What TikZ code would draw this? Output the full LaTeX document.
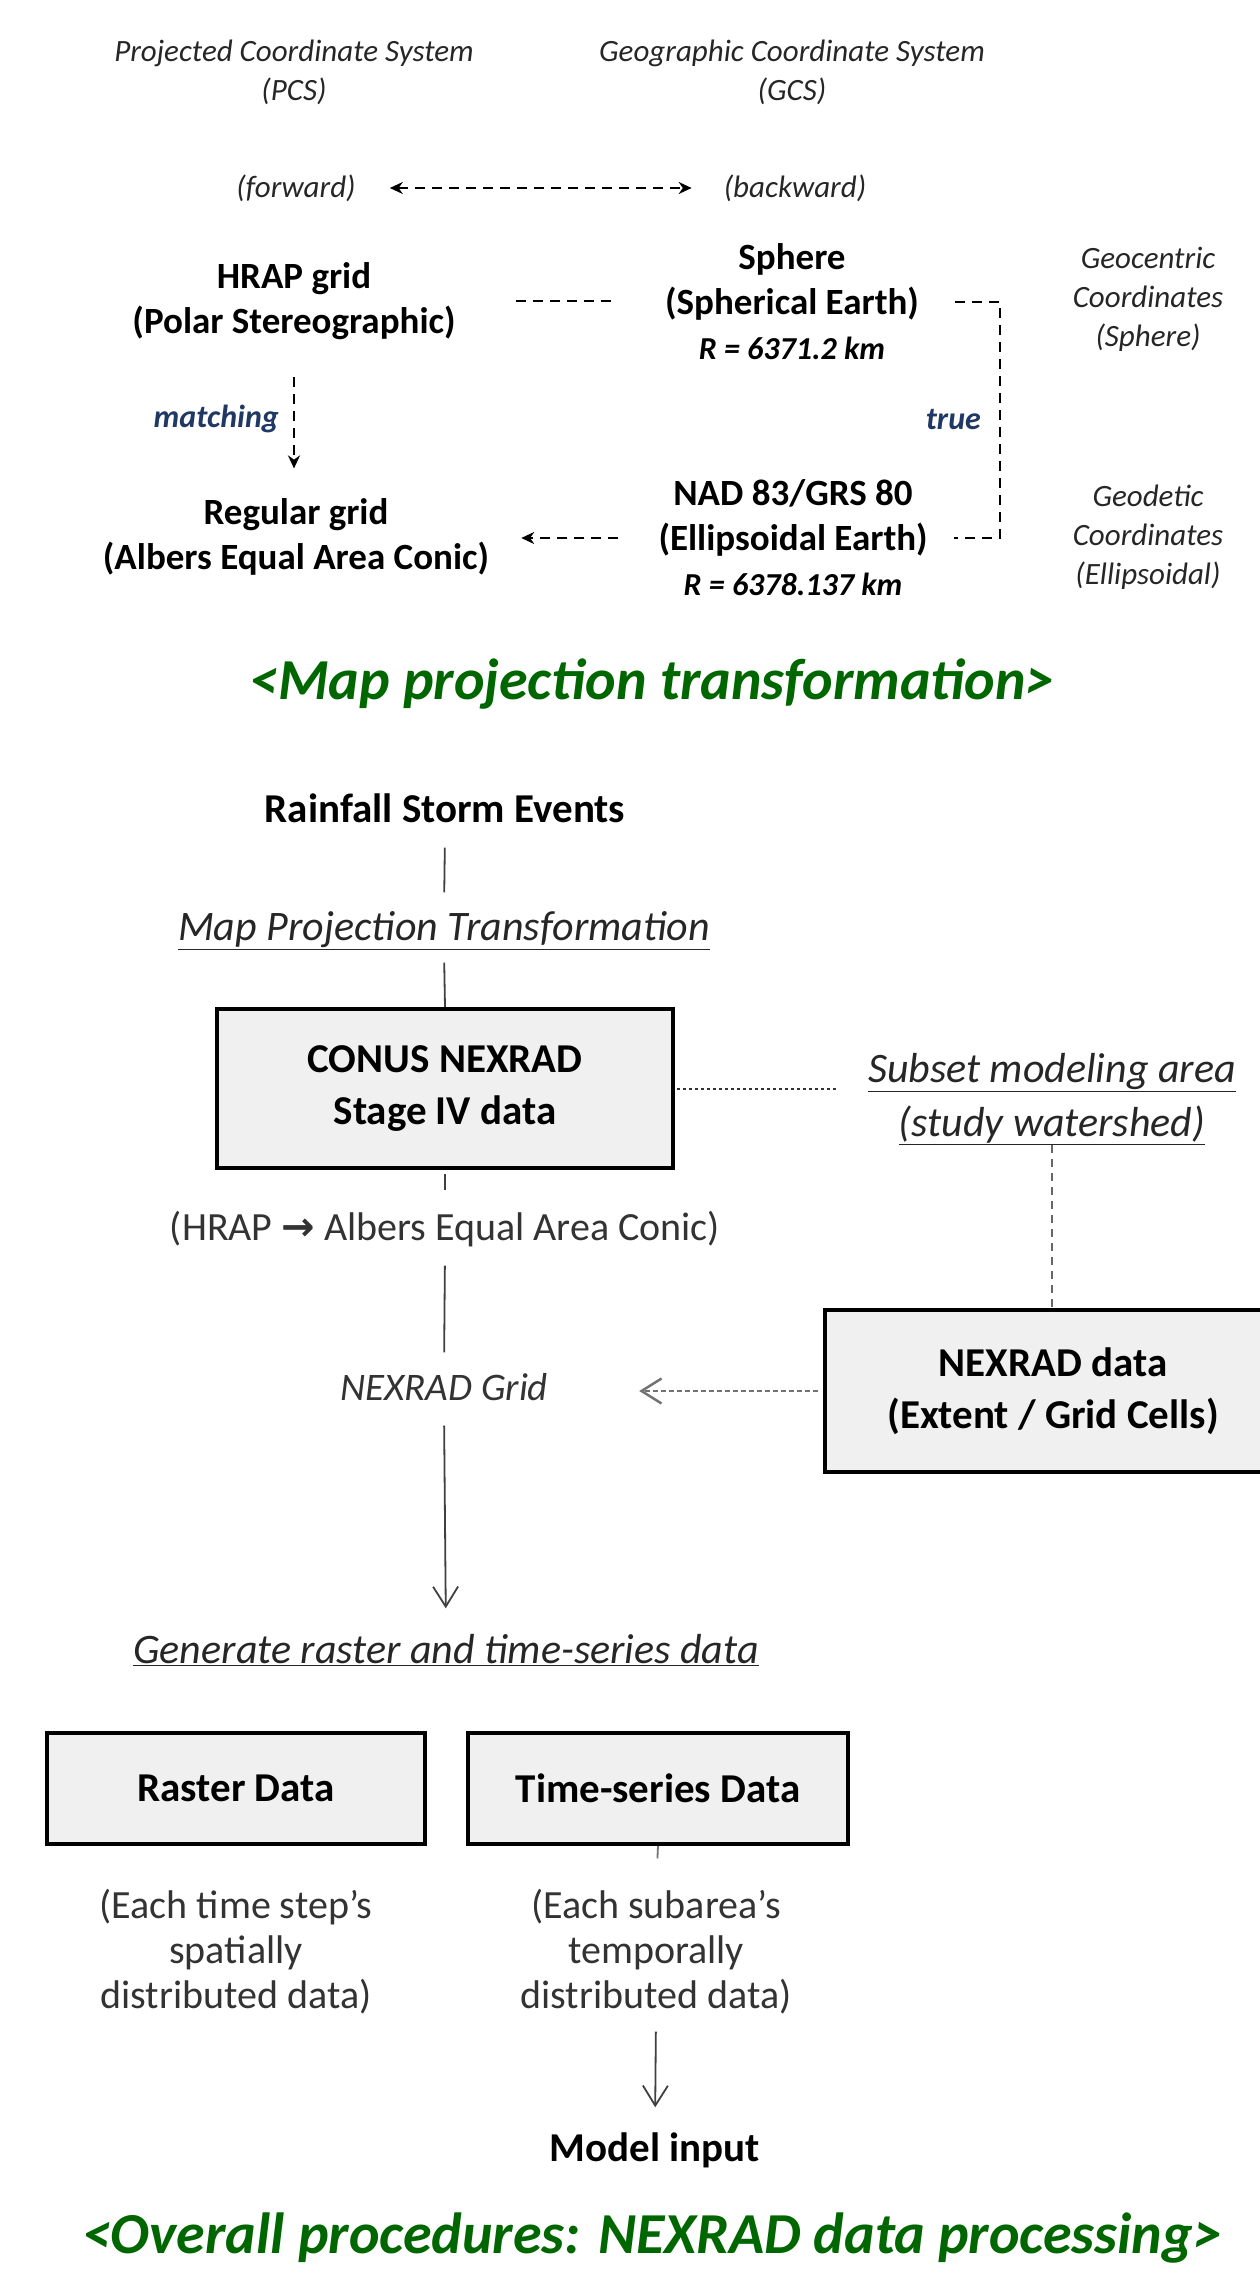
\documentclass[tikz,border=0pt]{standalone}
\usepackage{fontspec}
\setmainfont{Carlito}
\newfontfamily\symfont{DejaVu Sans}
\usetikzlibrary{arrows.meta}
\usepackage{color}
\definecolor{titlegreen}{RGB}{0,102,0}
\definecolor{labelblue}{RGB}{31,56,100}
\definecolor{boxfill}{RGB}{240,240,240}
\newcommand{\fsz}[2]{\fontsize{#1}{#2}\selectfont}

\begin{document}
\begin{tikzpicture}
  [x=1pt,y=-1pt,auto=left]
      \tikzstyle{sys_text} = [inner sep=0, align=center, text=black!85, font=\fsz{31}{39}\itshape]
      \tikzstyle{proj_text} = [inner sep=0, align=center, font=\fsz{37}{45}\bfseries]
      \tikzstyle{flow_label} = [inner sep=0, text=labelblue, font=\fsz{32}{38}\bfseries\itshape]
      \tikzstyle{title_text} = [inner sep=0, text=titlegreen, font=\fsz{58}{70}\bfseries\itshape]
      \tikzstyle{step_text} = [inner sep=0, font=\fsz{41}{50}\bfseries, text height=29pt, text depth=10pt]
      \tikzstyle{link_text} = [inner sep=0, align=center, text=black!85, font=\fsz{42}{54}\itshape]
      \tikzstyle{note_text} = [inner sep=0, align=center, text=black!80, font=\fsz{40}{45}]
      \tikzstyle{one_line} = [text height=29pt, text depth=10pt]
      \tikzstyle{data_box} = [draw=black, fill=boxfill, line width=4pt, inner sep=0, align=center, font=\fsz{41}{52}\bfseries]
      \tikzstyle{dash_edge} = [draw=black, line width=2.5pt, dash pattern=on 10pt off 7pt]
      \tikzstyle{flow_edge} = [draw=black!75, line width=1.8pt]
      \tikzstyle{dot_edge} = [draw=black!80, line width=2pt, dash pattern=on 3pt off 3pt]
      \tikzstyle{grey_edge} = [draw=black!55, line width=2.5pt, dash pattern=on 5pt off 3pt]
      \tikzstyle{fill_tip} = [-{Stealth[length=13pt,width=12pt]}]
      \tikzstyle{open_tip} = [-{Straight Barb[length=20pt,width=25pt]}]
  \useasboundingbox (0,0) rectangle (1259,2283);
  \node[sys_text] (pcs) at (294,72) {Projected Coordinate System\\(PCS)};
  \node[sys_text] (gcs) at (792,72) {Geographic Coordinate System\\(GCS)};
  \node[sys_text] (fwd) at (296,188) {(forward)};
  \node[sys_text] (bwd) at (795,188) {(backward)};
  \node[proj_text] (hrap) at (294,301) {HRAP grid\\(Polar Stereographic)};
  \node[proj_text] (sph) at (792,302) {Sphere\\(Spherical Earth)\\{\fsz{32}{41}\itshape R = 6371.2 km}};
  \node[sys_text] (geoc) at (1148,299) {Geocentric\\Coordinates\\(Sphere)};
  \node[proj_text] (reg) at (296,537) {Regular grid\\(Albers Equal Area Conic)};
  \node[proj_text] (nad) at (793,538) {NAD 83/GRS 80\\(Ellipsoidal Earth)\\{\fsz{32}{41}\itshape R = 6378.137 km}};
  \node[sys_text] (geod) at (1148,537) {Geodetic\\Coordinates\\(Ellipsoidal)};
  \node[title_text] (maptitle) at (652,684) {<Map projection transformation>};
  \draw[dash_edge, {Stealth[length=13pt,width=12pt]}-{Stealth[length=13pt,width=12pt]}, shorten <=34pt, shorten >=32pt] (fwd.east) -- (bwd.west);
  \draw[dash_edge, shorten <=60pt, shorten >=50pt] (hrap.east) -- (hrap.east -| sph.west);
  \draw[dash_edge] ([xshift=36pt]sph.east) -- ++(45,0) |- node[flow_label, pos=.25, left=18pt] {true} ([xshift=26pt]nad.east);
  \draw[dash_edge, fill_tip, shorten <=40pt, shorten >=32pt] (nad.west) -- (nad.west -| reg.east);
  \draw[dash_edge, fill_tip, shorten <=37pt, shorten >=30pt] (hrap.south) -- (hrap.south |- reg.north) node[flow_label, midway, left=14pt] {matching};

  \node[step_text] (rain) at (445,813) {Rainfall Storm Events};
  \node[link_text, one_line] (mpt) at (444,931) {\underline{Map Projection Transformation}};
  \node[data_box, minimum width=456, minimum height=159] (conus) at (445,1088.5) {CONUS NEXRAD\\Stage IV data};
  \node[link_text] (subset) at (1052,1099) {\underline{Subset modeling area}\\\underline{(study watershed)}};
  \node[note_text, one_line] (hrapalb) at (445,1231) {(HRAP {\symfont\bfseries →} Albers Equal Area Conic)};
  \node[note_text, one_line, font=\fsz{39}{45}\itshape] (grid) at (444,1391) {NEXRAD Grid};
  \node[data_box, minimum width=457, minimum height=162] (nexbox) at (1053,1391) {NEXRAD data\\(Extent / Grid Cells)};
  \node[link_text, one_line] (gen) at (446,1654) {\underline{Generate raster and time-series data}};
  \node[data_box, minimum width=378, minimum height=111] (raster) at (236,1788.5) {Raster Data};
  \node[data_box, minimum width=380, minimum height=111] (tseries) at (658,1788.5) {Time-series Data};
  \node[note_text] (rdesc) at (236,1952) {(Each time step’s\\spatially\\distributed data)};
  \node[note_text] (tdesc) at (656,1952) {(Each subarea’s\\temporally\\distributed data)};
  \node[step_text] (model) at (655,2152) {Model input};
  \node[title_text] (proctitle) at (652,2238) {<Overall procedures: NEXRAD data processing>};
  \draw[flow_edge, shorten <=15pt, shorten >=19pt] (rain.south) -- (mpt.north);
  \draw[flow_edge, shorten <=12pt] (mpt.south) -- (conus.north);
  \draw[flow_edge, shorten <=4pt, shorten >=21pt] (conus.south) -- (hrapalb.north);
  \draw[flow_edge, shorten <=15pt, shorten >=19pt] (hrapalb.south) -- (grid.north);
  \draw[flow_edge, open_tip, shorten <=15pt, shorten >=26pt] (grid.south) -- (gen.north);
  \draw[dot_edge, shorten <=2pt, shorten >=32pt] (conus.east) -- (conus.east -| subset.west);
  \draw[draw=black!60, line width=1.5pt, dash pattern=on 8pt off 6pt] (subset.south) -- (subset.south |- nexbox.north);
  \draw[grey_edge, open_tip, shorten <=5pt, shorten >=91pt] (nexbox.west) -- (nexbox.west -| grid.east);
  \draw[flow_edge, draw=black!55, shorten >=31pt] (tseries.south) -- (tdesc.north);
  \draw[flow_edge, open_tip, shorten <=17pt, shorten >=25pt] (tdesc.south) -- (model.north);
\end{tikzpicture}
\end{document}
